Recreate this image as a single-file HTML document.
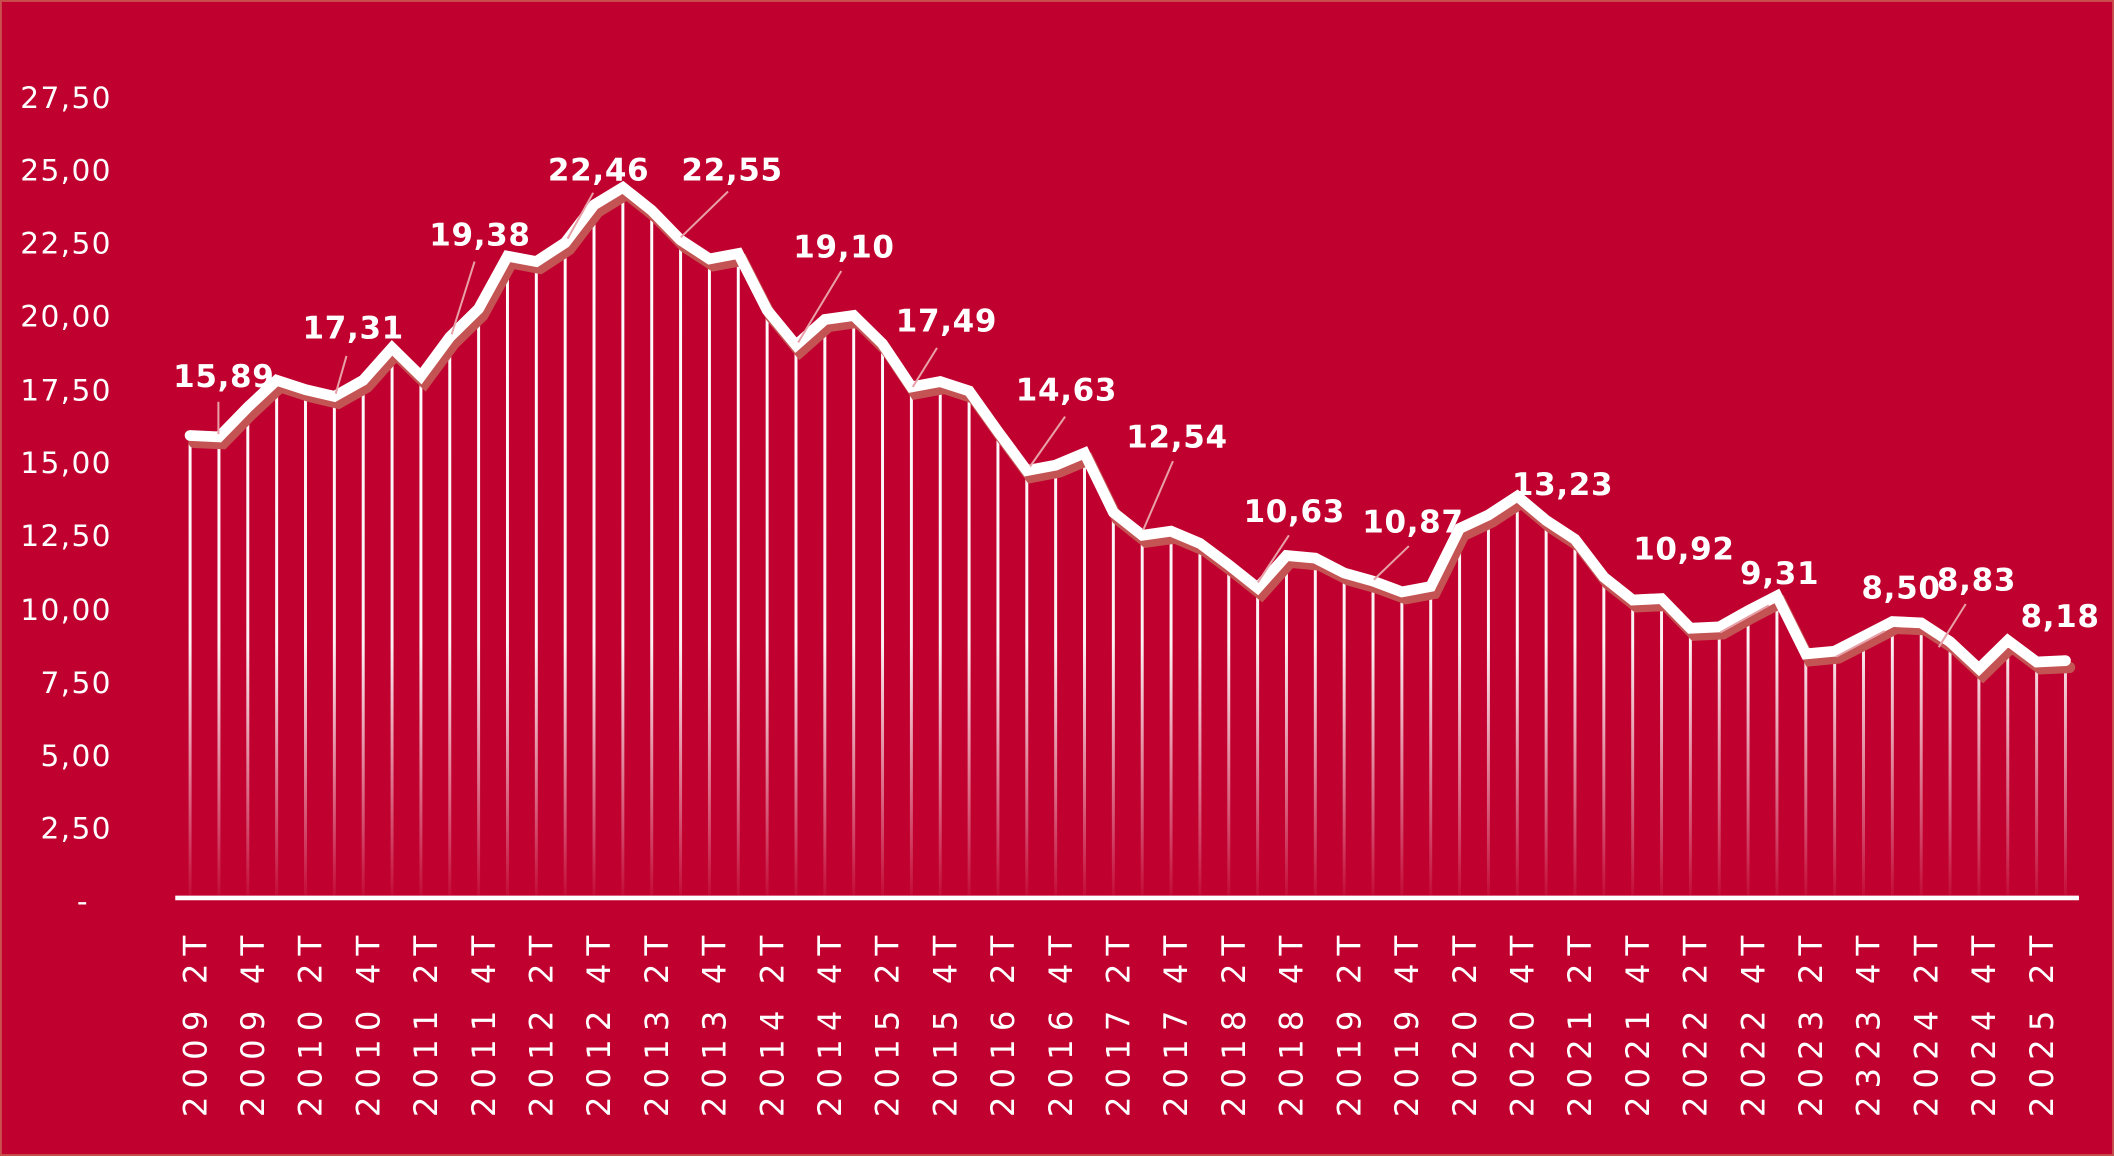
<!DOCTYPE html>
<html><head><meta charset="utf-8"><style>
html,body{margin:0;padding:0;background:#c0002e;}
svg{display:block;}
</style></head><body>
<svg width="2114" height="1156" viewBox="0 0 1568 857.4" xmlns="http://www.w3.org/2000/svg" xmlns:xlink="http://www.w3.org/1999/xlink">
<defs>
<linearGradient id="fade" x1="0" y1="130" x2="0" y2="664" gradientUnits="userSpaceOnUse">
<stop offset="0" stop-color="#fff" stop-opacity="1"/>
<stop offset="0.65" stop-color="#fff" stop-opacity="0.95"/>
<stop offset="1" stop-color="#fff" stop-opacity="0.05"/>
</linearGradient>
<polyline id="ln" fill="none" points="141.0,323 162.4,324 183.8,302 205.2,282 226.6,289 248.0,294 269.4,282 290.8,258 312.2,279 333.6,250 355.0,229 376.4,190 397.8,194 419.2,180 440.6,152 462.0,139 483.4,156 504.8,178 526.2,192 547.6,188 569.0,230 590.4,256 611.8,237 633.2,234 654.6,255 676.0,287 697.4,283 718.8,290 740.2,320 761.6,349 783.0,345 804.4,336 825.8,380 847.2,397 868.6,394 890.0,403 911.4,419 932.8,436 954.2,412 975.6,414 997.0,425 1018.4,431 1039.8,439 1061.2,435 1082.6,392 1104.0,382 1125.4,368 1146.8,386 1168.2,400 1189.6,428 1211.0,445 1232.4,444 1253.8,466 1275.2,465 1296.6,453 1318.0,442 1339.4,485 1360.8,483 1382.2,472 1403.6,461 1425.0,462 1446.4,476 1467.8,496 1489.2,475 1510.6,491 1532.0,490"/>
</defs>
<rect x="0" y="0" width="1568" height="857.4" fill="#c0002e"/>
<rect x="0.7" y="0.7" width="1566.6" height="856" fill="none" stroke="#c8504e" stroke-width="1.4"/>
<g font-family="'DejaVu Sans','Liberation Sans',sans-serif" font-size="22" letter-spacing="1" fill="#fff" text-anchor="end">
<text x="83" y="80">27,50</text><text x="83" y="134">25,00</text><text x="83" y="188">22,50</text>
<text x="83" y="242">20,00</text><text x="83" y="297">17,50</text><text x="83" y="351">15,00</text>
<text x="83" y="405">12,50</text><text x="83" y="460">10,00</text><text x="83" y="514">7,50</text>
<text x="83" y="568">5,00</text><text x="83" y="622">2,50</text><text x="66" y="676">-</text>
</g>
<path stroke="url(#fade)" stroke-width="2.2" fill="none" d="M141.0,323V664M162.4,324V664M183.8,302V664M205.2,282V664M226.6,289V664M248.0,294V664M269.4,282V664M290.8,258V664M312.2,279V664M333.6,250V664M355.0,229V664M376.4,190V664M397.8,194V664M419.2,180V664M440.6,152V664M462.0,139V664M483.4,156V664M504.8,178V664M526.2,192V664M547.6,188V664M569.0,230V664M590.4,256V664M611.8,237V664M633.2,234V664M654.6,255V664M676.0,287V664M697.4,283V664M718.8,290V664M740.2,320V664M761.6,349V664M783.0,345V664M804.4,336V664M825.8,380V664M847.2,397V664M868.6,394V664M890.0,403V664M911.4,419V664M932.8,436V664M954.2,412V664M975.6,414V664M997.0,425V664M1018.4,431V664M1039.8,439V664M1061.2,435V664M1082.6,392V664M1104.0,382V664M1125.4,368V664M1146.8,386V664M1168.2,400V664M1189.6,428V664M1211.0,445V664M1232.4,444V664M1253.8,466V664M1275.2,465V664M1296.6,453V664M1318.0,442V664M1339.4,485V664M1360.8,483V664M1382.2,472V664M1403.6,461V664M1425.0,462V664M1446.4,476V664M1467.8,496V664M1489.2,475V664M1510.6,491V664M1532.0,490V664"/>
<use xlink:href="#ln" href="#ln" transform="translate(3,5)" stroke="#c45454" stroke-width="8.5" stroke-linecap="round" stroke-linejoin="miter"/>
<use xlink:href="#ln" href="#ln" stroke="#fff" stroke-width="8" stroke-linecap="round" stroke-linejoin="miter"/>
<line x1="130" y1="666" x2="1542" y2="666" stroke="#fff" stroke-width="3.5"/>
<g stroke="#e8a0a8" stroke-width="1.5">
<line x1="162" y1="298" x2="162" y2="322"/><line x1="257" y1="264" x2="249" y2="292"/>
<line x1="352" y1="194" x2="335" y2="248"/><line x1="440" y1="143" x2="421" y2="177"/>
<line x1="540" y1="142" x2="505" y2="176"/><line x1="624" y1="201" x2="592" y2="254"/>
<line x1="695" y1="258" x2="677" y2="287"/><line x1="790" y1="309" x2="764" y2="346"/>
<line x1="870" y1="342" x2="848" y2="393"/><line x1="956" y1="397" x2="933" y2="432"/>
<line x1="1045" y1="405" x2="1019" y2="430"/><line x1="1276" y1="469" x2="1312" y2="449"/>
<line x1="1362" y1="487" x2="1398" y2="468"/><line x1="1458" y1="448" x2="1438" y2="480"/>
</g>
<g font-family="'DejaVu Sans','Liberation Sans',sans-serif" font-size="23" font-weight="bold" fill="#fff" text-anchor="middle" letter-spacing="0.5">
<text x="166" y="287">15,89</text><text x="262" y="251">17,31</text><text x="356" y="182">19,38</text>
<text x="444" y="134">22,46</text><text x="543" y="134">22,55</text><text x="626" y="191">19,10</text>
<text x="702" y="246">17,49</text><text x="791" y="297">14,63</text><text x="873" y="332">12,54</text>
<text x="960" y="387">10,63</text><text x="1048" y="395">10,87</text><text x="1159" y="367">13,23</text>
<text x="1249" y="415">10,92</text><text x="1320" y="433">9,31</text><text x="1410" y="444">8,50</text>
<text x="1466" y="438">8,83</text><text x="1528" y="465">8,18</text>
</g>
<g font-family="'DejaVu Sans','Liberation Sans',sans-serif" font-size="24" fill="#fff" text-anchor="end" letter-spacing="6">
<text transform="translate(153,688) rotate(-90)">2009 2T</text>
<text transform="translate(195.8,688) rotate(-90)">2009 4T</text>
<text transform="translate(238.6,688) rotate(-90)">2010 2T</text>
<text transform="translate(281.4,688) rotate(-90)">2010 4T</text>
<text transform="translate(324.2,688) rotate(-90)">2011 2T</text>
<text transform="translate(367,688) rotate(-90)">2011 4T</text>
<text transform="translate(409.8,688) rotate(-90)">2012 2T</text>
<text transform="translate(452.6,688) rotate(-90)">2012 4T</text>
<text transform="translate(495.4,688) rotate(-90)">2013 2T</text>
<text transform="translate(538.2,688) rotate(-90)">2013 4T</text>
<text transform="translate(581,688) rotate(-90)">2014 2T</text>
<text transform="translate(623.8,688) rotate(-90)">2014 4T</text>
<text transform="translate(666.6,688) rotate(-90)">2015 2T</text>
<text transform="translate(709.4,688) rotate(-90)">2015 4T</text>
<text transform="translate(752.2,688) rotate(-90)">2016 2T</text>
<text transform="translate(795,688) rotate(-90)">2016 4T</text>
<text transform="translate(837.8,688) rotate(-90)">2017 2T</text>
<text transform="translate(880.6,688) rotate(-90)">2017 4T</text>
<text transform="translate(923.4,688) rotate(-90)">2018 2T</text>
<text transform="translate(966.2,688) rotate(-90)">2018 4T</text>
<text transform="translate(1009,688) rotate(-90)">2019 2T</text>
<text transform="translate(1051.8,688) rotate(-90)">2019 4T</text>
<text transform="translate(1094.6,688) rotate(-90)">2020 2T</text>
<text transform="translate(1137.4,688) rotate(-90)">2020 4T</text>
<text transform="translate(1180.2,688) rotate(-90)">2021 2T</text>
<text transform="translate(1223,688) rotate(-90)">2021 4T</text>
<text transform="translate(1265.8,688) rotate(-90)">2022 2T</text>
<text transform="translate(1308.6,688) rotate(-90)">2022 4T</text>
<text transform="translate(1351.4,688) rotate(-90)">2023 2T</text>
<text transform="translate(1394.2,688) rotate(-90)">2323 4T</text>
<text transform="translate(1437,688) rotate(-90)">2024 2T</text>
<text transform="translate(1479.8,688) rotate(-90)">2024 4T</text>
<text transform="translate(1522.6,688) rotate(-90)">2025 2T</text>
</g>
</svg>
</body></html>
